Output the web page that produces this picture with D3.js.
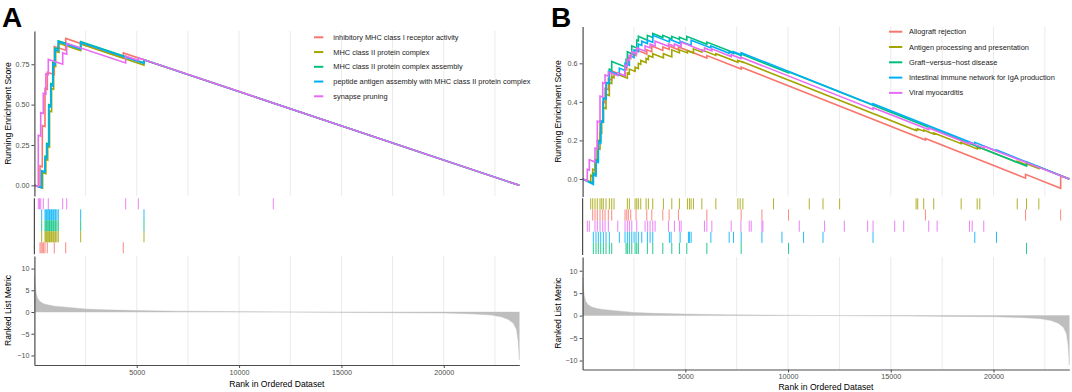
<!DOCTYPE html>
<html><head><meta charset="utf-8">
<script src="https://cdn.jsdelivr.net/npm/d3@7"></script>
<style>
body{margin:0;background:#fff}
svg{display:block}
text{font-family:"Liberation Sans",Arial,Helvetica,sans-serif}
</style>
</head><body>
<svg id="chart" width="1072" height="392"></svg>
<script>
// ---------------- DATA ----------------
const N = 23690;                       // genes in ordered dataset
const xTickValues = [5000, 10000, 15000, 20000];
const gridRanks = [2500, 5000, 7500, 10000, 12500, 15000, 17500, 20000, 22500];
const esTicksA = [0, 0.25, 0.5, 0.75];
const esTicksB = [0, 0.2, 0.4, 0.6];
const metricTicks = [-10, -5, 0, 5, 10];

const namesA = ["inhibitory MHC class I receptor activity", "MHC class II protein complex",
  "MHC class II protein complex assembly", "peptide antigen assembly with MHC class II protein complex",
  "synapse pruning"];
const namesB = ["Allograft rejection", "Antigen processing and presentation",
  "Graft\u2212versus\u2212host disease", "Intestinal immune network for IgA production", "Viral myocarditis"];

// ranked list metric (shared gene list)
const metricRanks  = [0, 30, 80, 150, 270, 450, 700, 1000, 1580, 2500, 3500, 5000, 7000, 9000, 11000, 12500, 14000, 16000, 18000, 20000, 21500, 22300, 22800, 23150, 23400, 23550, 23630, 23670, 23690];
const metricValues = [8.5, 6.5, 4.5, 3.2, 2.4, 1.9, 1.6, 1.35, 1.1, 0.7, 0.5, 0.35, 0.2, 0.12, 0.05, 0.0, -0.05, -0.1, -0.18, -0.25, -0.45, -0.7, -1.1, -1.7, -2.6, -4, -6.5, -9, -11];

// Panel A running enrichment score vertices [rank, ES]
const esA1 = [[0,0],[274,-0.012],[274,0.12],[386,0.115],[386,0.37],[518,0.365],[518,0.60],[630,0.595],[630,0.70],[972,0.686],[972,0.86],[1529,0.837],[1529,0.91],[4343,0.79],[4343,0.82],[23690,0]];
const esA2 = [[0,0],[400,-0.017],[400,0.08],[560,0.073],[560,0.16],[650,0.156],[650,0.24],[740,0.236],[740,0.46],[840,0.456],[840,0.6],[940,0.596],[940,0.74],[1040,0.736],[1040,0.83],[1200,0.823],[1200,0.88],[2260,0.835],[2260,0.875],[5354,0.745],[5354,0.778],[23690,0]];
const esA3 = [[0,0],[356,-0.015],[356,0.09],[518,0.083],[518,0.18],[600,0.177],[600,0.26],[700,0.256],[700,0.5],[800,0.496],[800,0.63],[900,0.626],[900,0.76],[1000,0.756],[1000,0.85],[1168,0.843],[1168,0.895],[2260,0.849],[2260,0.89],[5354,0.76],[5354,0.778],[23690,0]];
const esA4 = [[0,0],[356,-0.015],[356,0.09],[518,0.083],[518,0.17],[600,0.167],[600,0.25],[700,0.245],[700,0.49],[800,0.485],[800,0.62],[900,0.615],[900,0.75],[1000,0.745],[1000,0.84],[1168,0.833],[1168,0.89],[2260,0.844],[2260,0.885],[5354,0.755],[5354,0.778],[23690,0]];
const esA5 = [[0,0],[190,-0.008],[190,0.31],[308,0.305],[308,0.45],[435,0.445],[435,0.57],[560,0.565],[560,0.69],[679,0.685],[679,0.78],[1383,0.75],[1383,0.82],[1578,0.812],[1578,0.88],[4460,0.758],[4460,0.80],[5076,0.774],[5076,0.79],[23690,0]];

// Panel A hit positions (ranks)
const hitsA1 = [274, 330, 386, 450, 518, 630, 972, 1529, 4343];
const hitsA2 = [356, 518, 560, 600, 650, 700, 740, 800, 840, 900, 940, 1000, 1040, 1100, 1168, 2260, 5354];
const hitsA3 = [356, 518, 560, 600, 650, 700, 740, 800, 840, 900, 940, 1000, 1040, 1100, 1168, 2260, 5354];
const hitsA4 = [356, 518, 560, 600, 650, 700, 740, 800, 840, 900, 940, 1000, 1040, 1100, 1168, 2260, 5354];
const hitsA5 = [190, 250, 308, 435, 679, 1383, 1578, 4460, 5076, 11670];

// Panel B running enrichment score vertices [rank, ES]
const esB1 = [[0,0],[492,-0.02],[492,0.03],[604,0.025],[604,0.1],[716,0.095],[716,0.2],[848,0.195],[848,0.3],[980,0.295],[980,0.4],[1092,0.395],[1092,0.47],[1252,0.463],[1252,0.52],[1418,0.513],[1418,0.56],[2066,0.533],[2066,0.57],[2149,0.566],[2149,0.60],[2227,0.597],[2227,0.63],[2344,0.625],[2344,0.65],[2602,0.64],[2602,0.67],[3124,0.648],[3124,0.67],[3368,0.66],[3368,0.69],[3904,0.667],[3904,0.685],[4211,0.672],[4211,0.69],[4664,0.67],[4664,0.685],[6048,0.627],[6048,0.64],[7719,0.57],[7719,0.58],[16686,0.202],[16686,0.21],[21560,0.004],[21560,0.024],[23270,-0.048],[23270,0.016],[23690,0]];
const esB2 = [[0,0],[395,-0.017],[395,0.02],[492,0.016],[492,0.05],[604,0.045],[604,0.1],[716,0.095],[716,0.16],[848,0.155],[848,0.24],[931,0.237],[931,0.3],[1009,0.297],[1009,0.37],[1140,0.365],[1140,0.44],[1301,0.433],[1301,0.5],[1418,0.495],[1418,0.53],[1530,0.525],[1530,0.55],[2178,0.523],[2178,0.55],[2276,0.546],[2276,0.57],[2554,0.558],[2554,0.58],[2714,0.573],[2714,0.6],[2831,0.595],[2831,0.615],[3090,0.604],[3090,0.625],[3202,0.62],[3202,0.64],[3416,0.631],[3416,0.65],[3933,0.628],[3933,0.65],[4342,0.633],[4342,0.67],[4712,0.654],[4712,0.67],[5102,0.654],[5102,0.665],[5395,0.653],[5395,0.675],[5804,0.658],[5804,0.67],[6486,0.641],[6486,0.65],[7558,0.605],[7558,0.615],[7802,0.605],[7802,0.607],[16233,0.251],[16233,0.257],[16311,0.254],[16311,0.26],[16603,0.248],[16603,0.254],[17091,0.233],[17091,0.239],[18426,0.183],[18426,0.189],[19206,0.156],[19206,0.162],[19333,0.157],[19333,0.163],[21155,0.086],[21155,0.092],[21608,0.073],[21608,0.079],[22208,0.054],[22208,0.063],[23690,0]];
const esB3 = [[0,0],[522,-0.022],[522,0.03],[653,0.025],[653,0.1],[765,0.095],[765,0.2],[882,0.195],[882,0.3],[1009,0.295],[1009,0.42],[1140,0.415],[1140,0.5],[1301,0.495],[1301,0.57],[1418,0.565],[1418,0.61],[2115,0.58],[2115,0.62],[2178,0.617],[2178,0.66],[2393,0.65],[2393,0.69],[2636,0.68],[2636,0.72],[2714,0.717],[2714,0.74],[3153,0.72],[3153,0.745],[3416,0.734],[3416,0.755],[3904,0.734],[3904,0.745],[4342,0.726],[4342,0.74],[4712,0.724],[4712,0.735],[5073,0.72],[5073,0.74],[6048,0.699],[6048,0.71],[7719,0.64],[7719,0.648],[10024,0.551],[10024,0.556],[21608,0.067],[21608,0.088],[23690,0]];
const esB4 = [[0,0],[522,-0.028],[522,0.02],[653,0.015],[653,0.09],[765,0.085],[765,0.19],[882,0.185],[882,0.3],[1009,0.295],[1009,0.42],[1140,0.415],[1140,0.5],[1301,0.495],[1301,0.56],[1789,0.54],[1789,0.575],[2066,0.563],[2066,0.6],[2276,0.59],[2276,0.64],[2505,0.63],[2505,0.67],[2714,0.661],[2714,0.70],[2880,0.693],[2880,0.715],[3153,0.703],[3153,0.72],[3416,0.709],[3416,0.745],[4225,0.711],[4225,0.725],[4747,0.703],[4747,0.715],[5283,0.692],[5283,0.72],[6243,0.68],[6243,0.69],[7135,0.652],[7135,0.66],[7344,0.651],[7344,0.66],[7719,0.644],[7719,0.655],[14137,0.384],[14137,0.39],[19089,0.181],[19089,0.19],[20146,0.145],[20146,0.15],[23690,0]];
const esB5 = [[0,0],[229,-0.01],[229,0.05],[327,0.046],[327,0.10],[604,0.088],[604,0.16],[716,0.155],[716,0.30],[848,0.295],[848,0.43],[980,0.425],[980,0.5],[1092,0.495],[1092,0.54],[1252,0.533],[1252,0.555],[1711,0.536],[1711,0.55],[2066,0.535],[2066,0.59],[2178,0.585],[2178,0.62],[2276,0.616],[2276,0.64],[2393,0.635],[2393,0.66],[2636,0.65],[2636,0.68],[3041,0.663],[3041,0.69],[3284,0.68],[3284,0.70],[3528,0.69],[3528,0.715],[4177,0.688],[4177,0.70],[4469,0.688],[4469,0.70],[4795,0.686],[4795,0.71],[5931,0.662],[5931,0.68],[6291,0.665],[6291,0.675],[7232,0.635],[7232,0.645],[7704,0.625],[7704,0.632],[14137,0.361],[14137,0.37],[16848,0.256],[16848,0.265],[18830,0.181],[18830,0.19],[19527,0.161],[19527,0.17],[23690,0]];

// Panel B hit positions (ranks)
const hitsB1 = [492, 604, 716, 848, 980, 1092, 1252, 1418, 2066, 2149, 2227, 2344, 2602, 3124, 3368, 3904, 4211, 4664, 6048, 7719, 8728, 10024, 16686, 21560, 23270];
const hitsB2 = [395, 492, 604, 716, 848, 931, 1009, 1140, 1301, 1418, 1530, 2178, 2276, 2554, 2636, 2714, 2831, 3090, 3202, 3416, 3933, 4342, 4712, 5102, 5200, 5283, 5395, 5804, 6486, 7558, 7670, 7802, 9293, 11033, 11701, 12510, 16233, 16311, 16603, 17091, 18426, 19206, 19333, 21155, 21608, 22208];
const hitsB3 = [522, 653, 765, 882, 1009, 1140, 1301, 1418, 2115, 2178, 2276, 2393, 2554, 2636, 2714, 3153, 3416, 3904, 4342, 4712, 5073, 6048, 7719, 10024, 21608];
const hitsB4 = [522, 653, 765, 882, 1009, 1140, 1301, 1789, 2066, 2178, 2276, 2393, 2505, 2602, 2714, 2880, 3153, 3284, 3416, 4225, 4308, 4747, 5151, 5200, 5283, 6243, 7135, 7344, 7719, 8728, 9703, 10755, 11701, 14137, 19089, 20146];
const hitsB5 = [229, 327, 604, 716, 848, 980, 1092, 1252, 1711, 2066, 2178, 2276, 2393, 2636, 3041, 3168, 3284, 3416, 3528, 4177, 4469, 4712, 4795, 5931, 6048, 6291, 7232, 7704, 8109, 8206, 8728, 8777, 10546, 11779, 12739, 13874, 14137, 15191, 15629, 16848, 17257, 18830, 18962, 19527];

// ---------------- STYLE / LAYOUT ----------------
const colors = ["#F8766D", "#A3A500", "#00BF7D", "#00B0F6", "#E76BF3"];
const svg = d3.select("#chart");
const fmtMetric = d => d < 0 ? "\u2212" + (-d) : String(d);

function drawPanel(P) {
  const g = svg.append("g");
  const x = d3.scaleLinear().domain([0, N]).range([P.x0, P.x1]);
  const yT = d3.scaleLinear().domain(P.esDomain).range([P.top[1], P.top[0]]);
  const yM = d3.scaleLinear().domain(P.metDomain).range([P.bot[1], P.bot[0]]);

  // grid lines
  [[P.top[0], P.top[1]], [P.bot[0], P.bot[1]]].forEach(([a, b]) => {
    g.append("g").selectAll("line").data(gridRanks).join("line")
      .attr("x1", d => x(d)).attr("x2", d => x(d)).attr("y1", a).attr("y2", b)
      .attr("stroke", "#EBEBEB").attr("stroke-width", 1);
  });

  // running ES curves
  const line = d3.line().x(d => x(d[0])).y(d => yT(d[1]));
  P.curves.forEach((c, i) => {
    g.append("path").attr("d", line(c)).attr("fill", "none")
      .attr("stroke", colors[i]).attr("stroke-width", 1.6).attr("stroke-linejoin", "miter");
  });

  // hit marks
  const rowH = (P.mid[1] - P.mid[0]) / 5;
  P.rowOrder.forEach((si, k) => {
    const y0 = P.mid[0] + k * rowH, y1 = y0 + rowH;
    g.append("g").selectAll("line").data(P.hits[si]).join("line")
      .attr("x1", d => x(d)).attr("x2", d => x(d)).attr("y1", y0).attr("y2", y1)
      .attr("stroke", colors[si]).attr("stroke-width", 1).attr("stroke-opacity", 0.85);
  });

  // ranked metric area
  const mdata = metricRanks.map((r, i) => [r, metricValues[i]]);
  g.append("path").datum(mdata)
    .attr("d", d3.area().x(d => x(d[0])).y0(yM(0)).y1(d => yM(d[1])))
    .attr("fill", "#BEBEBE").attr("stroke", "#BEBEBE").attr("stroke-width", 0.4);

  // axes
  const axStyle = sel => {
    sel.select(".domain").attr("stroke", "#4D4D4D").attr("stroke-width", 1.2);
    sel.selectAll(".tick line").attr("stroke", "#4D4D4D").attr("stroke-width", 1);
    sel.selectAll(".tick text").attr("fill", "#4D4D4D").attr("font-size", "7.2px")
      .attr("font-family", "Liberation Sans, Arial, sans-serif");
  };
  g.append("g").attr("transform", `translate(${P.x0},0)`)
    .call(d3.axisLeft(yT).tickValues(P.esTicks).tickFormat(d3.format(P.esFmt)).tickSize(3).tickPadding(2).tickSizeOuter(0))
    .call(axStyle);
  g.append("line").attr("x1", P.x0).attr("x2", P.x0).attr("y1", P.mid[0]).attr("y2", P.mid[1] + 1)
    .attr("stroke", "#4D4D4D").attr("stroke-width", 1.2);
  g.append("g").attr("transform", `translate(${P.x0},0)`)
    .call(d3.axisLeft(yM).tickValues(metricTicks).tickFormat(fmtMetric).tickSize(3).tickPadding(2).tickSizeOuter(0))
    .call(axStyle);
  g.append("g").attr("transform", `translate(0,${P.bot[1]})`)
    .call(d3.axisBottom(x).tickValues(xTickValues).tickFormat(d3.format("d")).tickSize(3).tickPadding(1.5).tickSizeOuter(0))
    .call(axStyle);

  // axis titles
  g.append("text").attr("transform", `translate(${P.ytx},${(P.top[0] + P.top[1]) / 2}) rotate(-90)`)
    .attr("text-anchor", "middle").attr("dy", "0.35em").attr("font-size", "8.6px").attr("fill", "#000")
    .text("Running Enrichment Score");
  g.append("text").attr("transform", `translate(${P.ytx},${(P.bot[0] + P.bot[1]) / 2}) rotate(-90)`)
    .attr("text-anchor", "middle").attr("dy", "0.35em").attr("font-size", "8.6px").attr("fill", "#000")
    .text("Ranked List Metric");
  g.append("text").attr("x", (P.x0 + P.x1) / 2).attr("y", P.xTitleY)
    .attr("text-anchor", "middle").attr("font-size", "8.6px").attr("fill", "#000")
    .text("Rank in Ordered Dataset");

  // panel tag
  g.append("text").attr("x", P.tagX).attr("y", 27).attr("font-size", "28px").attr("font-weight", "bold")
    .attr("fill", "#000").text(P.tag);

  // legend
  const clipId = "clip" + P.tag;
  svg.append("clipPath").attr("id", clipId).append("rect")
    .attr("x", P.clip[0]).attr("y", 0).attr("width", P.clip[1] - P.clip[0]).attr("height", 392);
  const lg = g.append("g").attr("clip-path", `url(#${clipId})`);
  P.names.forEach((name, i) => {
    const yy = P.leg.y0 + i * P.leg.dy;
    lg.append("line").attr("x1", P.leg.sx0).attr("x2", P.leg.sx1).attr("y1", yy).attr("y2", yy)
      .attr("stroke", colors[i]).attr("stroke-width", 2);
    lg.append("text").attr("x", P.leg.tx).attr("y", yy).attr("dy", "0.35em")
      .attr("font-size", "7.4px").attr("fill", "#1a1a1a").text(name);
  });
}

drawPanel({
  tag: "A", tagX: 2, x0: 34.4, x1: 519.3,
  top: [31, 196], mid: [198.3, 253.3], bot: [256, 365],
  esDomain: [-0.066, 0.956], metDomain: [-12.2, 12.9],
  esTicks: esTicksA, esFmt: ".2f",
  curves: [esA1, esA2, esA3, esA4, esA5],
  hits: [hitsA1, hitsA2, hitsA3, hitsA4, hitsA5],
  rowOrder: [4, 3, 2, 1, 0],
  names: namesA, ytx: 8, xTitleY: 387,
  leg: {y0: 37.3, dy: 14.75, sx0: 314, sx1: 323.3, tx: 333.3},
  clip: [0, 531]
});
drawPanel({
  tag: "B", tagX: 551, x0: 582.6, x1: 1069.3,
  top: [26.5, 196.5], mid: [198.3, 254], bot: [257, 369.5],
  esDomain: [-0.091, 0.791], metDomain: [-12.0, 13.05],
  esTicks: esTicksB, esFmt: ".1f",
  curves: [esB1, esB2, esB3, esB4, esB5],
  hits: [hitsB1, hitsB2, hitsB3, hitsB4, hitsB5],
  rowOrder: [1, 0, 4, 3, 2],
  names: namesB, ytx: 557.5, xTitleY: 390,
  leg: {y0: 31.7, dy: 15.3, sx0: 889, sx1: 902.3, tx: 909},
  clip: [536, 1072]
});
</script>
</body></html>
